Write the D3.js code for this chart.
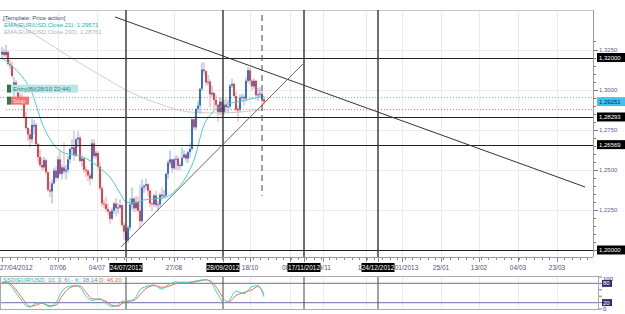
<!DOCTYPE html>
<meta charset="utf-8">
<style>
body { margin: 0; background: #fff; }
text { font-family: "Liberation Sans", Arial, sans-serif; }
</style>
<body>
<script src="https://d3js.org/d3.v7.min.js"></script>
<script>

// daily EUR/USD candles from 27/04/2012 to 29/10/2012 : [open, high, low, close]
var candles = [
 [1.3220,1.3265,1.3195,1.3235],[1.3235,1.3255,1.3205,1.3215],[1.3215,1.3280,1.3200,1.3235],[1.3235,1.3245,1.3150,1.3160],
 [1.3160,1.3185,1.3130,1.3150],[1.3150,1.3175,1.3070,1.3085],[1.3000,1.3080,1.2955,1.3045],[1.3045,1.3060,1.2990,1.3005],
 [1.3005,1.3010,1.2910,1.2935],[1.2935,1.2975,1.2920,1.2945],[1.2945,1.2975,1.2905,1.2915],[1.2915,1.2920,1.2820,1.2830],
 [1.2830,1.2860,1.2750,1.2760],[1.2760,1.2765,1.2680,1.2720],[1.2720,1.2750,1.2640,1.2690],[1.2690,1.2820,1.2665,1.2780],
 [1.2770,1.2810,1.2720,1.2780],[1.2780,1.2795,1.2650,1.2660],[1.2660,1.2670,1.2545,1.2580],[1.2580,1.2625,1.2515,1.2530],
 [1.2530,1.2575,1.2495,1.2515],[1.2515,1.2580,1.2500,1.2560],[1.2560,1.2570,1.2470,1.2485],[1.2485,1.2490,1.2360,1.2375],
 [1.2375,1.2425,1.2330,1.2365],[1.2365,1.2440,1.2290,1.2415],[1.2415,1.2510,1.2410,1.2495],[1.2495,1.2520,1.2430,1.2450],
 [1.2450,1.2585,1.2440,1.2565],[1.2565,1.2625,1.2465,1.2475],[1.2475,1.2530,1.2440,1.2515],[1.2515,1.2670,1.2475,1.2490],
 [1.2490,1.2530,1.2440,1.2500],[1.2500,1.2590,1.2480,1.2565],[1.2565,1.2640,1.2540,1.2630],[1.2630,1.2690,1.2590,1.2640],
 [1.2640,1.2745,1.2555,1.2590],[1.2590,1.2700,1.2580,1.2690],[1.2690,1.2740,1.2640,1.2700],[1.2700,1.2715,1.2545,1.2555],
 [1.2555,1.2590,1.2520,1.2570],[1.2570,1.2575,1.2480,1.2500],[1.2500,1.2520,1.2455,1.2495],[1.2495,1.2505,1.2430,1.2465],
 [1.2465,1.2485,1.2405,1.2445],[1.2445,1.2690,1.2440,1.2665],[1.2665,1.2690,1.2570,1.2585],[1.2585,1.2620,1.2565,1.2605],
 [1.2605,1.2615,1.2500,1.2520],[1.2520,1.2545,1.2370,1.2385],[1.2385,1.2400,1.2270,1.2290],[1.2290,1.2315,1.2260,1.2285],
 [1.2285,1.2330,1.2240,1.2255],[1.2255,1.2290,1.2220,1.2240],[1.2240,1.2245,1.2160,1.2195],[1.2195,1.2265,1.2185,1.2245],
 [1.2245,1.2300,1.2225,1.2290],[1.2290,1.2325,1.2210,1.2260],[1.2260,1.2290,1.2225,1.2265],[1.2265,1.2315,1.2255,1.2280],
 [1.2280,1.2285,1.2145,1.2155],[1.2155,1.2170,1.2065,1.2115],[1.2115,1.2140,1.2040,1.2060],[1.2060,1.2150,1.2045,1.2140],
 [1.2140,1.2325,1.2120,1.2285],[1.2285,1.2390,1.2250,1.2320],[1.2320,1.2330,1.2235,1.2260],[1.2260,1.2335,1.2240,1.2300],
 [1.2300,1.2335,1.2240,1.2245],[1.2245,1.2410,1.2135,1.2180],[1.2180,1.2440,1.2165,1.2390],[1.2390,1.2410,1.2355,1.2400],
 [1.2400,1.2445,1.2375,1.2410],[1.2410,1.2415,1.2335,1.2370],[1.2370,1.2380,1.2265,1.2290],[1.2290,1.2300,1.2240,1.2285],
 [1.2285,1.2350,1.2270,1.2340],[1.2340,1.2370,1.2265,1.2280],[1.2280,1.2305,1.2240,1.2285],[1.2285,1.2355,1.2270,1.2345],
 [1.2345,1.2390,1.2310,1.2335],[1.2335,1.2375,1.2320,1.2340],[1.2340,1.2480,1.2330,1.2475],[1.2475,1.2560,1.2445,1.2545],
 [1.2545,1.2620,1.2525,1.2565],[1.2565,1.2570,1.2480,1.2510],[1.2510,1.2570,1.2500,1.2565],[1.2565,1.2590,1.2500,1.2570],
 [1.2570,1.2585,1.2495,1.2525],[1.2525,1.2545,1.2500,1.2530],[1.2525,1.2640,1.2520,1.2575],[1.2575,1.2620,1.2575,1.2595],
 [1.2595,1.2605,1.2545,1.2570],[1.2570,1.2620,1.2545,1.2610],[1.2610,1.2665,1.2575,1.2630],[1.2630,1.2820,1.2620,1.2815],
 [1.2815,1.2820,1.2750,1.2765],[1.2765,1.2885,1.2750,1.2880],[1.2880,1.2930,1.2860,1.2900],[1.2900,1.3010,1.2850,1.3005],
 [1.3005,1.3170,1.2990,1.3125],[1.3125,1.3170,1.3090,1.3115],[1.3115,1.3120,1.3025,1.3045],[1.3045,1.3090,1.3025,1.3050],
 [1.3050,1.3065,1.2890,1.2970],[1.2970,1.3025,1.2950,1.2980],[1.2980,1.2985,1.2875,1.2935],[1.2935,1.2965,1.2880,1.2905],
 [1.2905,1.2910,1.2800,1.2860],[1.2860,1.2955,1.2840,1.2925],[1.2925,1.2950,1.2835,1.2860],[1.2860,1.2935,1.2845,1.2905],
 [1.2905,1.2950,1.2860,1.2890],[1.2890,1.2935,1.2855,1.2895],[1.2895,1.3035,1.2880,1.3025],[1.3025,1.3070,1.3010,1.3035],
 [1.3035,1.3045,1.2950,1.2960],[1.2960,1.2985,1.2865,1.2875],[1.2880,1.2900,1.2800,1.2870],[1.2875,1.2970,1.2860,1.2950],
 [1.2950,1.2975,1.2925,1.2955],[1.2955,1.2970,1.2900,1.2945],[1.2945,1.3075,1.2925,1.3055],[1.3055,1.3140,1.3040,1.3120],
 [1.3120,1.3135,1.3030,1.3055],[1.3055,1.3065,1.2995,1.3020],[1.3020,1.3070,1.3005,1.3055],[1.3055,1.3060,1.2945,1.2965],
 [1.2965,1.3010,1.2930,1.2970],[1.2970,1.3015,1.2950,1.2975],[1.2975,1.2990,1.2890,1.2940],[1.2940,1.2960,1.2905,1.2925]
];

// indicator readings [bar index, value]
var ema21 = [[0,1.3197],[5,1.3147],[9,1.3097],[15,1.2979],[20,1.2792],[26,1.2655],[31,1.2605],[39,1.2586],
  [45,1.2549],[50,1.2499],[54,1.2455],[59,1.2355],[62,1.2299],[66,1.2293],[71,1.2312],[76,1.2318],[82,1.2330],
  [87,1.2374],[92,1.2455],[96,1.2561],[101,1.2779],[105,1.2854],[110,1.2898],[115,1.2917],[122,1.2935],[129,1.2954],[131,1.29571]];
var ema200 = [[0,1.3434],[9,1.3397],[19,1.3322],[34,1.3203],[49,1.3091],[64,1.2985],[79,1.2910],[94,1.2860],
  [109,1.2854],[131,1.28761]];
var stochK = [[0,82],[2,82],[4,75],[7,50],[10,25],[12,10],[14,6],[17,18],[20,18],[24,7],[27,20],[30,55],[33,70],
  [37,73],[39,68],[42,40],[45,27],[49,32],[52,18],[55,8],[58,12],[60,24],[63,25],[66,30],[69,60],[72,70],[76,75],
  [80,62],[83,75],[87,85],[91,82],[94,84],[99,90],[102,92],[105,78],[108,45],[111,20],[113,23],[117,56],[121,48],
  [125,70],[128,73],[131,38.14]];
var stochD = [[0,84],[2,84],[4,80],[7,60],[10,35],[12,18],[14,8],[17,12],[20,18],[24,10],[27,12],[30,40],[33,62],
  [37,72],[39,72],[42,52],[45,32],[49,30],[52,24],[55,12],[58,9],[60,17],[63,24],[66,27],[69,45],[72,64],[76,73],
  [80,68],[83,70],[87,80],[91,84],[94,83],[99,88],[102,91],[105,84],[108,60],[111,30],[113,21],[117,42],[121,52],
  [125,60],[128,70],[131,46.2]];

// trend lines [[index, price], [index, price]]
var trendLines = [[[56.5,1.3453],[291.5,1.2393]], [[59.5,1.2019],[150.5,1.3160]]];
var levels = [1.32, 1.28293, 1.26569, 1.2];
var lastPrice = 1.29251, entryPrice = 1.2950, stopPrice = 1.2875;
var priceTicks = [1.225, 1.25, 1.275, 1.3, 1.325];

// time axis labels [text, bar index]
var xLabels = [["27/04/2012",0],["07/06",28],["04/07",47.5],["27/08",86],["18/10",124],["08/11",144],["29/11",160.5],
  ["13/12",182],["04/01/2013",200],["25/01",219.5],["13/02",238.5],["04/03",258],["23/03",277.5]];
var markedDates = [["24/07/2012",62],["28/09/2012",110.5],["17/11/2012",151],["24/12/2012",188]];
var entryIndex = 130;

var W = 625, H = 314, plotRight = 593, plotTop = 10, plotBottom = 257;
var x = d3.scaleLinear().domain([0, 295.5]).range([2, plotRight]);
var y = d3.scaleLinear().domain([1.2, 1.325]).range([250, 49.5]);
var yo = d3.scaleLinear().domain([0, 100]).range([309, 277]);
var fmt = function(d, n) { return d3.format("." + n + "f")(d).replace(".", ","); };
var last = function(a) { return a[a.length - 1][1]; };

var svg = d3.select("body").append("svg").attr("width", W).attr("height", H);

svg.append("defs").append("clipPath").attr("id", "clip")
  .append("rect").attr("x", 0).attr("y", plotTop).attr("width", plotRight).attr("height", plotBottom - plotTop);

// grid
var grid = svg.append("g").attr("stroke", "#ececec").attr("stroke-width", 1);
grid.selectAll(".gh").data(priceTicks).join("line")
  .attr("x1", 0).attr("x2", plotRight).attr("y1", d => Math.round(y(d)) + 0.5).attr("y2", d => Math.round(y(d)) + 0.5);
grid.selectAll(".gv").data(xLabels.slice(1)).join("line")
  .attr("x1", d => Math.round(x(d[1])) + 0.5).attr("x2", d => Math.round(x(d[1])) + 0.5).attr("y1", plotTop).attr("y2", plotBottom);

// frame
svg.append("line").attr("x1", 0).attr("x2", plotRight).attr("y1", plotTop + 0.5).attr("y2", plotTop + 0.5).attr("stroke", "#c8c8c8");
svg.append("line").attr("x1", 0).attr("x2", plotRight).attr("y1", plotBottom + 0.5).attr("y2", plotBottom + 0.5).attr("stroke", "#999");
svg.append("line").attr("x1", plotRight + 0.5).attr("x2", plotRight + 0.5).attr("y1", plotTop).attr("y2", plotBottom).attr("stroke", "#999");

var plot = svg.append("g").attr("clip-path", "url(#clip)");

// EMA 200
var line = d3.line().x(d => x(d[0])).y(d => y(d[1])).curve(d3.curveMonotoneX);
plot.append("path").datum(ema200).attr("d", line).attr("fill", "none").attr("stroke", "#cfcfcf").attr("stroke-width", 1);

// entry and stop lines
plot.append("line").attr("x1", 0).attr("x2", plotRight).attr("y1", y(entryPrice)).attr("y2", y(entryPrice))
  .attr("stroke", "#5cc8d0").attr("stroke-dasharray", "1,2");
plot.append("line").attr("x1", 6).attr("x2", plotRight).attr("y1", y(stopPrice)).attr("y2", y(stopPrice))
  .attr("stroke", "#f07070").attr("stroke-dasharray", "1,2");

// candles
var cg = plot.append("g");
cg.selectAll(".wick").data(candles).join("line")
  .attr("x1", (d, i) => x(i)).attr("x2", (d, i) => x(i))
  .attr("y1", d => y(d[1])).attr("y2", d => y(d[2]))
  .attr("stroke", d => d[3] >= d[0] ? "#86aee6" : "#f2a0a0").attr("stroke-width", 1);
cg.selectAll(".body").data(candles).join("rect")
  .attr("x", (d, i) => x(i) - 0.8).attr("width", 1.6)
  .attr("y", d => y(Math.max(d[0], d[3])))
  .attr("height", d => Math.max(1, Math.abs(y(d[0]) - y(d[3]))))
  .attr("fill", d => d[3] >= d[0] ? "#1558c8" : "#e3202a");

// EMA 21
plot.append("path").datum(ema21).attr("d", line).attr("fill", "none").attr("stroke", "#48d0d0").attr("stroke-width", 1);

// horizontal levels
plot.selectAll(".lvl").data(levels).join("line")
  .attr("x1", 0).attr("x2", plotRight).attr("y1", d => Math.round(y(d)) + 0.5).attr("y2", d => Math.round(y(d)) + 0.5)
  .attr("stroke", "#222").attr("stroke-width", 1);

// vertical date markers
plot.selectAll(".vm").data(markedDates).join("line")
  .attr("x1", d => x(d[1])).attr("x2", d => x(d[1])).attr("y1", plotTop).attr("y2", plotBottom)
  .attr("stroke", "#333").attr("stroke-width", 1.4);
plot.append("line").attr("x1", x(entryIndex)).attr("x2", x(entryIndex)).attr("y1", 15).attr("y2", 196)
  .attr("stroke", "#444").attr("stroke-width", 1).attr("stroke-dasharray", "6,4");

// trend lines
plot.selectAll(".tl").data(trendLines).join("line")
  .attr("x1", d => x(d[0][0])).attr("y1", d => y(d[0][1]))
  .attr("x2", d => x(d[1][0])).attr("y2", d => y(d[1][1]))
  .attr("stroke", (d, i) => i == 0 ? "#333" : "#555").attr("stroke-width", (d, i) => i == 0 ? 1 : 0.9);

// legend
var leg = svg.append("g").attr("font-size", 6);
leg.append("text").attr("x", 3).attr("y", 20).attr("fill", "#3c4a6a").text("[Template: Price action]");
leg.append("text").attr("x", 4).attr("y", 27).attr("fill", "#1ab0b8").text("EMA(EUR/USD,Close,21): " + fmt(last(ema21), 5));
leg.append("text").attr("x", 4).attr("y", 34).attr("fill", "#b4b4b4").text("EMA(EUR/USD,Close,200): " + fmt(last(ema200), 5));

// entry / stop tags
svg.append("rect").attr("x", 7).attr("y", y(entryPrice) - 13).attr("width", 4).attr("height", 8).attr("fill", "#2f7a3c");
svg.append("rect").attr("x", 11).attr("y", y(entryPrice) - 13).attr("width", 67).attr("height", 8).attr("fill", "#b8e6e6");
svg.append("text").attr("x", 13).attr("y", y(entryPrice) - 7).attr("font-size", 6).attr("fill", "#3a7a80").text("Entry(B)(28/10 22:44)");
svg.append("rect").attr("x", 7).attr("y", y(stopPrice) - 13).attr("width", 4).attr("height", 8).attr("fill", "#2f7a3c");
svg.append("rect").attr("x", 11).attr("y", y(stopPrice) - 13).attr("width", 18).attr("height", 8).attr("fill", "#f07474");
svg.append("text").attr("x", 13).attr("y", y(stopPrice) - 7).attr("font-size", 6).attr("fill", "#ffe0e0").text("Stop");

// right price axis
var minorP = d3.range(0, 27).map(i => 1.2 + i * 0.005);
svg.append("g").selectAll("line").data(minorP).join("line")
  .attr("x1", plotRight + 1).attr("x2", (d, i) => plotRight + (i % 5 == 0 ? 5 : 3))
  .attr("y1", d => Math.round(y(d)) + 0.5).attr("y2", d => Math.round(y(d)) + 0.5).attr("stroke", "#777");
svg.append("g").selectAll("text").data(priceTicks).join("text")
  .attr("x", 599).attr("y", d => y(d) + 2).attr("font-size", 6).attr("fill", "#5a5a9a").text(d => fmt(d, 4));

var boxes = levels.map(d => ({v: d, bg: "#000", fg: "#fff"})).concat([{v: lastPrice, bg: "#3fc3ee", fg: "#003050"}]);
var bx = svg.append("g").selectAll("g").data(boxes).join("g");
bx.append("rect").attr("x", 597).attr("y", d => y(d.v) - 4.5).attr("width", 28).attr("height", 9).attr("fill", d => d.bg);
bx.append("text").attr("x", 599).attr("y", d => y(d.v) + 2).attr("font-size", 6).attr("fill", d => d.fg).text(d => fmt(d.v, 5));

// time axis ticks and labels
svg.append("g").selectAll("line").data(d3.range(0, 296, 3.8)).join("line")
  .attr("x1", d => Math.round(x(d)) + 0.5).attr("x2", d => Math.round(x(d)) + 0.5)
  .attr("y1", plotBottom + 1).attr("y2", plotBottom + 3).attr("stroke", "#888");
svg.append("g").selectAll("line").data(xLabels.concat(markedDates)).join("line")
  .attr("x1", d => Math.round(x(d[1])) + 0.5).attr("x2", d => Math.round(x(d[1])) + 0.5)
  .attr("y1", plotBottom + 1).attr("y2", plotBottom + 5).attr("stroke", "#888");
svg.append("g").selectAll("text").data(xLabels).join("text")
  .attr("x", (d, i) => i == 0 ? 0 : x(d[1])).attr("y", 270).attr("text-anchor", (d, i) => i == 0 ? "start" : "middle")
  .attr("font-size", 6.5).attr("fill", "#505078").text(d => d[0]);
var mk = svg.append("g").selectAll("g").data(markedDates).join("g");
mk.append("rect").attr("x", d => x(d[1]) - 16.5).attr("y", 263).attr("width", 33).attr("height", 9).attr("fill", "#000");
mk.append("text").attr("x", d => x(d[1])).attr("y", 270).attr("text-anchor", "middle").attr("font-size", 6.5)
  .attr("fill", "#fff").text(d => d[0]);

// stochastic panel
var osc = svg.append("g");
osc.append("rect").attr("x", 0.5).attr("y", 276.5).attr("width", 598).attr("height", 33).attr("fill", "#fff").attr("stroke", "#aaa");
osc.selectAll(".og").data(xLabels.slice(1)).join("line")
  .attr("x1", d => Math.round(x(d[1])) + 0.5).attr("x2", d => Math.round(x(d[1])) + 0.5).attr("y1", 277).attr("y2", 309)
  .attr("stroke", "#ececec");
osc.selectAll(".ol").data([80, 20]).join("line")
  .attr("x1", 1).attr("x2", 598).attr("y1", d => yo(d)).attr("y2", d => yo(d)).attr("stroke", "#8a88b4").attr("stroke-width", 1.3);
osc.selectAll(".ov").data(markedDates).join("line")
  .attr("x1", d => x(d[1])).attr("x2", d => x(d[1])).attr("y1", 277).attr("y2", 309).attr("stroke", "#444").attr("stroke-width", 1);
var oline = d3.line().x(d => x(d[0])).y(d => yo(d[1])).curve(d3.curveMonotoneX);
osc.append("path").datum(stochD).attr("d", oline).attr("fill", "none").attr("stroke", "#f07040").attr("stroke-width", 1);
osc.append("path").datum(stochK).attr("d", oline).attr("fill", "none").attr("stroke", "#40d0d0").attr("stroke-width", 1);
var ot = osc.append("text").attr("x", 3).attr("y", 282).attr("font-size", 6);
ot.append("tspan").attr("fill", "#20b0b8").text("SSD(EUR/USD, 10, 3, 6) - K: " + d3.format(".2f")(last(stochK)));
ot.append("tspan").attr("fill", "#f06030").text(" D: " + d3.format(".2f")(last(stochD)));
osc.selectAll(".ot").data([0, 20, 40, 60, 80, 100]).join("line")
  .attr("x1", 599).attr("x2", 602).attr("y1", d => yo(d)).attr("y2", d => yo(d)).attr("stroke", "#777");
osc.selectAll(".ob").data([80, 20]).join("rect")
  .attr("x", 602).attr("y", d => yo(d) - 3.5).attr("width", 10).attr("height", 7).attr("fill", "#303068");
osc.selectAll(".olab").data([100, 80, 20, 0]).join("text")
  .attr("x", 603).attr("y", d => Math.min(313, Math.max(281, yo(d) + 2))).attr("font-size", 6)
  .attr("fill", d => d == 80 || d == 20 ? "#fff" : "#303068").text(d => d);

</script>
</body>
